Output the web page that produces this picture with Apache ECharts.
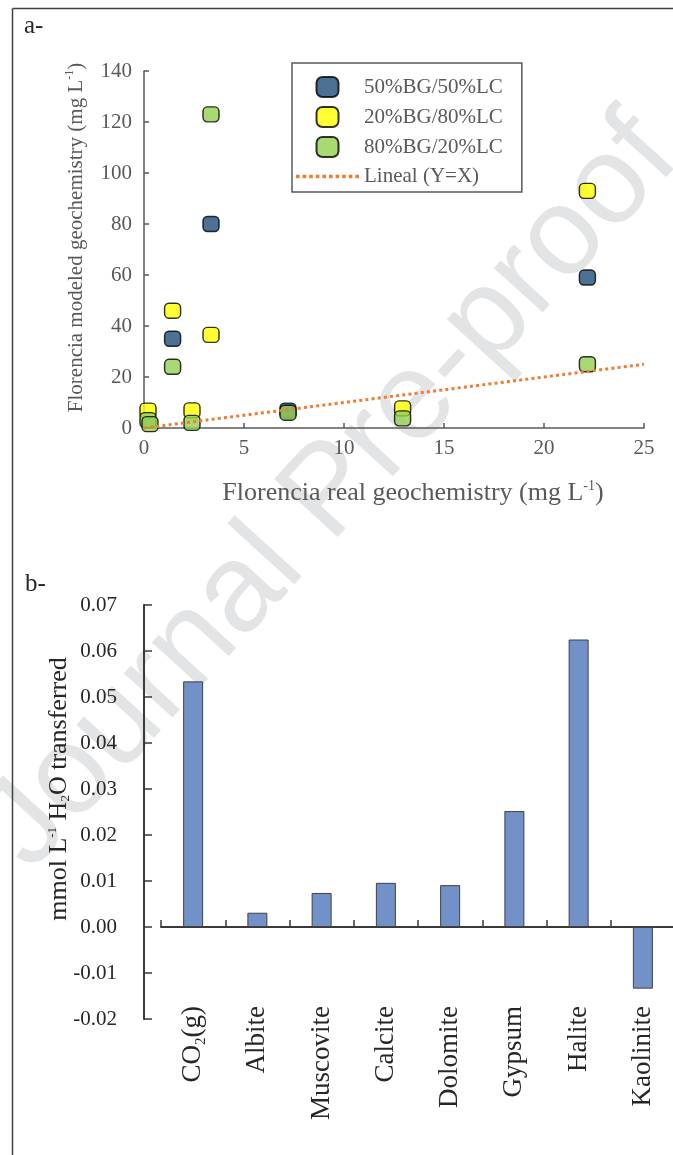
<!DOCTYPE html>
<html>
<head>
<meta charset="utf-8">
<script src="https://cdn.jsdelivr.net/npm/echarts@6/dist/echarts.min.js"></script>
<style>
  html, body { margin: 0; padding: 0; background: #fff; }
  #c { width: 673px; height: 1155px; }
</style>
</head>
<body>
<div id="c"></div>
<script>
// ---- Panel a: modeled vs. real concentrations (mg/L) ----
const mix5050X = [1.43, 3.35, 7.2, 22.17];
const mix5050Y = [35, 80, 6.8, 59];
const mix2080X = [0.2, 1.43, 2.4, 3.35, 12.93, 22.17];
const mix2080Y = [6.8, 46, 6.9, 36.5, 7.7, 93];
const mix8020X = [0.2, 0.3, 1.43, 2.4, 3.35, 7.2, 12.93, 22.17];
const mix8020Y = [3.1, 1.5, 24, 2.0, 123, 6.0, 3.8, 25];
const identityX = [0, 25];
const identityY = [0, 25];
const realTicks = { min: 0, max: 25, step: 5 };
const modeledTicks = { min: 0, max: 140, step: 20 };

// ---- Panel b: mass transfer per phase ----
const phases = ['CO2(g)', 'Albite', 'Muscovite', 'Calcite', 'Dolomite', 'Gypsum', 'Halite', 'Kaolinite'];
const transfer = [0.0534, 0.0031, 0.0074, 0.0096, 0.0091, 0.0252, 0.0625, -0.0134];
const transferTicks = { min: -0.02, max: 0.07, step: 0.01 };

const serif = 'Liberation Serif';
const greyText = '#595959';
const darkText = '#262626';
const roundBox = 'path://M6,0 H16 A6,6 0 0 1 22,6 V14 A6,6 0 0 1 16,20 H6 A6,6 0 0 1 0,14 V6 A6,6 0 0 1 6,0 Z';

// legend swatch for the dotted reference line: a row of small squares
let dotRow = 'path://';
for (let i = 0; i < 10; i++) dotRow += 'M' + (i * 6.4).toFixed(1) + ',0 h3.5 v3.5 h-3.5 Z ';

const pairs = (xs, ys) => xs.map((x, i) => [x, ys[i]]);
const supStyle = (size, color) => ({ fontFamily: serif, fontSize: size, color: color, verticalAlign: 'top', lineHeight: size * 2 });
const subStyle = (size, color) => ({ fontFamily: serif, fontSize: size, color: color, verticalAlign: 'bottom', lineHeight: size * 2 });

function scatterSeries(name, color, data) {
  return {
    type: 'scatter', name: name, xAxisIndex: 0, yAxisIndex: 0,
    data: data, symbol: roundBox, symbolSize: [16, 15],
    itemStyle: { color: color, borderColor: '#000', borderWidth: 1.4 }
  };
}

const chart = echarts.init(document.getElementById('c'), null, { renderer: 'canvas', width: 673, height: 1155 });

chart.setOption({
  animation: false,
  backgroundColor: '#fff',
  textStyle: { fontFamily: serif },
  grid: [
    { left: 144, top: 71, width: 500, height: 357, outerBoundsMode: 'none' },
    { left: 161, top: 605, width: 514, height: 414, outerBoundsMode: 'none' }
  ],
  legend: {
    orient: 'vertical', left: 292, top: 63,
    itemWidth: 63, itemHeight: 20, itemGap: 8,
    padding: [13, 19, 5, 4],
    borderColor: '#595959', borderWidth: 1.5,
    textStyle: { fontFamily: serif, fontSize: 21, color: greyText },
    data: [
      { name: '50%BG/50%LC', icon: roundBox },
      { name: '20%BG/80%LC', icon: roundBox },
      { name: '80%BG/20%LC', icon: roundBox },
      { name: 'Lineal (Y=X)', icon: dotRow }
    ]
  },
  xAxis: [
    {
      type: 'value', gridIndex: 0,
      min: realTicks.min, max: realTicks.max, interval: realTicks.step,
      splitLine: { show: false },
      axisLine: { lineStyle: { color: '#595959', width: 1.5 } },
      axisTick: { inside: true, length: 5, lineStyle: { color: '#595959', width: 1.5 } },
      axisLabel: { fontFamily: serif, fontSize: 21, color: greyText, margin: 10 },
      name: 'Florencia real geochemistry (mg L{sup|-1})',
      nameLocation: 'middle', nameGap: 51,
      nameTextStyle: {
        fontFamily: serif, fontSize: 26, color: greyText, padding: [0, 0, 0, 38],
        rich: { sup: supStyle(14, greyText) }
      }
    },
    {
      type: 'category', gridIndex: 1, data: phases,
      axisLine: { onZero: true, lineStyle: { color: '#3a3a3a', width: 2 } },
      axisTick: { show: true, inside: true, length: 7, interval: 0, alignWithLabel: false, lineStyle: { color: '#3a3a3a', width: 1.5 } },
      axisLabel: {
        rotate: 90, margin: -13, interval: 0, fontFamily: serif, fontSize: 27, color: darkText,
        formatter: v => v === 'CO2(g)' ? '{n|CO}{s|2}{n|(g)}' : v,
        rich: {
          n: { fontFamily: serif, fontSize: 27, color: darkText },
          s: subStyle(15, darkText)
        }
      }
    }
  ],
  yAxis: [
    {
      type: 'value', gridIndex: 0,
      min: modeledTicks.min, max: modeledTicks.max, interval: modeledTicks.step,
      splitLine: { show: false },
      axisLine: { show: true, lineStyle: { color: '#595959', width: 1.5 } },
      axisTick: { show: true, inside: true, length: 5, lineStyle: { color: '#595959', width: 1.5 } },
      axisLabel: { fontFamily: serif, fontSize: 21, color: greyText, margin: 12 },
      name: 'Florencia modeled geochemistry (mg L{sup|-1})',
      nameLocation: 'middle', nameRotate: 90, nameGap: 56,
      nameTextStyle: {
        fontFamily: serif, fontSize: 21, color: greyText, padding: [0, 0, 0, 24],
        rich: { sup: supStyle(12, greyText) }
      }
    },
    {
      type: 'value', gridIndex: 1, offset: 17,
      min: transferTicks.min, max: transferTicks.max, interval: transferTicks.step,
      splitLine: { show: false },
      axisLine: { show: true, onZero: false, lineStyle: { color: '#3a3a3a', width: 2 } },
      axisTick: { show: true, inside: true, length: 8, lineStyle: { color: '#3a3a3a', width: 1.5 } },
      axisLabel: { fontFamily: serif, fontSize: 21, color: darkText, margin: 27, formatter: v => v.toFixed(2) },
      name: 'mmol L{sup|-1} H{sub|2}O transferred',
      nameLocation: 'middle', nameRotate: 90, nameGap: 72, nameMoveOverlap: false,
      nameTextStyle: {
        fontFamily: serif, fontSize: 26, color: darkText, padding: [0, 0, 0, 46],
        rich: { sup: supStyle(13, darkText), sub: subStyle(13, darkText) }
      }
    }
  ],
  series: [
    scatterSeries('50%BG/50%LC', '#1F4E79', pairs(mix5050X, mix5050Y)),
    scatterSeries('20%BG/80%LC', '#FFFF00', pairs(mix2080X, mix2080Y)),
    scatterSeries('80%BG/20%LC', '#92D050', pairs(mix8020X, mix8020Y)),
    {
      type: 'line', name: 'Lineal (Y=X)', xAxisIndex: 0, yAxisIndex: 0,
      data: pairs(identityX, identityY), symbol: 'none',
      lineStyle: { color: '#ED7D31', width: 3, type: [3, 3.2] },
      itemStyle: { color: '#ED7D31' }, z: 3
    },
    {
      type: 'bar', xAxisIndex: 1, yAxisIndex: 1,
      data: transfer, barWidth: 20,
      itemStyle: { color: '#7191C8', borderColor: '#404040', borderWidth: 1 }
    }
  ],
  graphic: [
    {
      type: 'text', x: 331, y: 493, rotation: 47.6 * Math.PI / 180, z: -10, silent: true,
      style: { text: 'Journal Pre-proof', fontFamily: 'Liberation Sans', fontSize: 125, fill: '#E3E4E6', align: 'center', verticalAlign: 'middle' }
    },
    { type: 'line', shape: { x1: 12.5, y1: 8.5, x2: 673, y2: 8.5 }, style: { stroke: '#404040', lineWidth: 1.5 } },
    { type: 'line', shape: { x1: 12.5, y1: 8.5, x2: 12.5, y2: 1155 }, style: { stroke: '#404040', lineWidth: 1.5 } },
    { type: 'text', x: 24, y: 39, style: { text: 'a-', fontFamily: serif, fontSize: 25, fill: darkText, verticalAlign: 'bottom' } },
    { type: 'text', x: 25, y: 597, style: { text: 'b-', fontFamily: serif, fontSize: 25, fill: darkText, verticalAlign: 'bottom' } }
  ]
});
</script>
</body>
</html>
